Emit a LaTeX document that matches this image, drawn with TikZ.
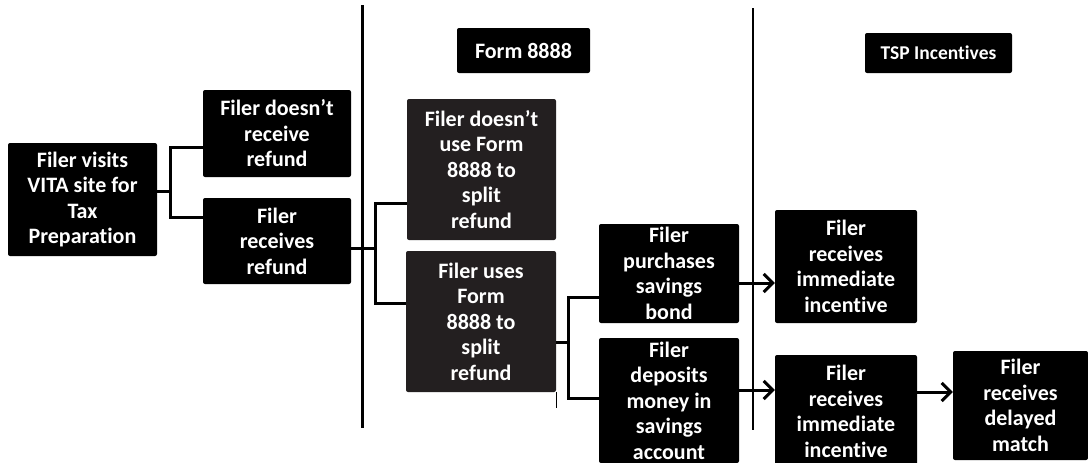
\documentclass[tikz,border=0pt]{standalone}
\usepackage{fontspec}
\setmainfont{Carlito}[Ligatures=NoCommon]
\usetikzlibrary{arrows.meta}
\definecolor{boxgray}{RGB}{35,31,32}
\begin{document}
\begin{tikzpicture}[x=1pt,y=-1pt]
		\tikzset{box/.style={fill=black, text=white, rounded corners=2pt, align=center, inner sep=0pt,
				font=\fontsize{22}{25.5}\selectfont\bfseries}};
		\tikzset{link/.style={line width=3pt}};
		\tikzset{arr/.style={line width=3pt, -{Straight Barb[length=9pt,width=18pt]}}};

		\useasboundingbox (0,0) rectangle (1088,463);

		\node[box, minimum width=149pt, minimum height=113pt] (visit) at (82.5,199.5) {Filer visits\\VITA site for\\Tax\\Preparation};
		\node[box, minimum width=148pt, minimum height=87pt] (norefund) at (277,133.5) {Filer doesn’t\\receive\\refund};
		\node[box, minimum width=148pt, minimum height=86pt] (refund) at (277,241) {Filer\\receives\\refund};
		\node[box, minimum width=133pt, minimum height=45pt] (form) at (523.5,50.5) {Form 8888};
		\node[box, boxgray, text=white, minimum width=149pt, minimum height=141pt] (nosplit) at (481.5,169.5) {Filer doesn’t\\use Form\\8888 to\\split\\refund};
		\node[box, boxgray, text=white, minimum width=150pt, minimum height=141pt] (split) at (481,321.5) {Filer uses\\Form\\8888 to\\split\\refund};
		\node[box, minimum width=140pt, minimum height=99pt] (bond) at (669,273.5) {Filer\\purchases\\savings\\bond};
		\node[box, minimum width=140pt, minimum height=125pt] (deposit) at (669,400.5) {Filer\\deposits\\money in\\savings\\account};
		\node[box, minimum width=147pt, minimum height=40pt, font=\fontsize{19.5}{23}\selectfont\bfseries] (tsp) at (938.5,53) {TSP Incentives};
		\node[box, minimum width=142pt, minimum height=113pt] (imm1) at (846,266.5) {Filer\\receives\\immediate\\incentive};
		\node[box, minimum width=142pt, minimum height=113pt] (imm2) at (846,411.5) {Filer\\receives\\immediate\\incentive};
		\node[box, minimum width=135pt, minimum height=109pt] (delayed) at (1020.5,405.5) {Filer\\receives\\delayed\\match};

		% dividers
		\draw[line width=3pt] (362,5) -- (362,428);
		\draw[line width=2pt] (753,8) -- (753,430);
		\draw[line width=1pt] (split.south east) -- ++(0,16);

		\coordinate (t1) at (170,191);
		\coordinate (t2) at (375,248);
		\coordinate (t3) at (568,342);

		\draw[link] (visit.east |- t1) -- (t1);
		\draw[link] (t1) |- (norefund.west |- 0,147);
		\draw[link] (t1) |- (refund.west |- 0,217);

		\draw[link] (refund.east |- t2) -- (t2);
		\draw[link] (t2) |- (nosplit.west |- 0,203);
		\draw[link] (t2) |- (split.west |- 0,303);

		\draw[link] (split.east |- t3) -- (t3);
		\draw[link] (t3) |- (bond.west |- 0,297);
		\draw[link] (t3) |- (deposit.west |- 0,398);

		\draw[arr] (bond.east |- 0,283) -- (imm1.west |- 0,283);
		\draw[arr] (deposit.east |- 0,390) -- (imm2.west |- 0,390);
		\draw[arr] (imm2.east |- 0,392) -- (delayed.west |- 0,392);

	\end{tikzpicture}
\end{document}
